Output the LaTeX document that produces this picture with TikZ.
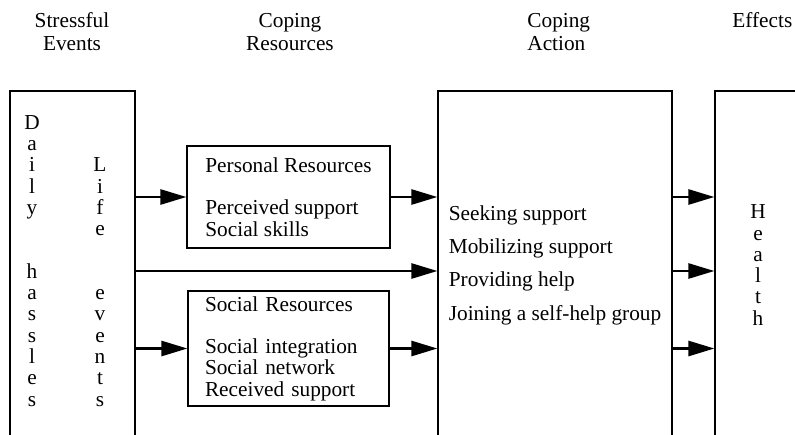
\documentclass[tikz,border=0pt]{standalone}
\usepackage{fontspec}
\setmainfont{Liberation Serif}
\usetikzlibrary{arrows.meta}

\begin{document}
\begin{tikzpicture}[
        x=0.5pt, y=-0.5pt,
        every node/.style={font=\fontsize{10.65pt}{10.6pt}\selectfont},
        box/.style={draw, line width=0.6pt, rectangle, inner sep=0pt},
        letters/.style={align=center, inner sep=0pt, font=\fontsize{10.65pt}{10.65pt}\selectfont},
        head/.style={inner sep=0pt, font=\fontsize{10.65pt}{11.5pt}\selectfont},
        arrow/.style={line width=1.3pt, -{Triangle[length=13pt, width=7.5pt]}}
    ]

    % Fixed frame, boxes run past the lower edge
    \useasboundingbox (0,0) rectangle (795,434);
    \clip (0,0) rectangle (795,434);

    % Column headings (base = last line)
    \node[head, align=center, anchor=base] (hstress) at (72,50) {Stressful\\Events};
    \node[head, align=center, anchor=base] (hres) at (290,50) {Coping\\Resources};
    \node[head, align=left, anchor=base west] (hact) at (527,50) {Coping\\Action};
    \node[head, anchor=base west] (heff) at (732,27) {Effects};

    % Stressful events
    \node[box, minimum width=62.5pt, minimum height=174pt] (events) at (72.5,265) {};
    \node[letters, anchor=base] (daily) at (32,406) {D\\a\\i\\l\\y\\~\\~\\h\\a\\s\\s\\l\\e\\s};
    \node[letters, anchor=base] (life) at (100,406) {L\\i\\f\\e\\~\\~\\e\\v\\e\\n\\t\\s};

    % Coping resources
    \node[box, minimum width=101.5pt, minimum height=51pt, align=left] (personal) at (288.5,197) {Personal Resources\\~\\Perceived support\\Social skills};
    \node[box, text width=83.5pt, inner xsep=8.5pt, minimum height=57.5pt, align=left] (social) at (288.5,348.5) {Social Resources\\~\\Social integration\\Social network\\Received support};

    % Coping action and effects
    \node[box, minimum width=117pt, minimum height=174pt, align=left, font=\fontsize{10.65pt}{16.67pt}\selectfont] (action) at (555,265) {Seeking support\\Mobilizing support\\Providing help\\Joining a self-help group};
    \node[box, letters, minimum width=43pt, minimum height=174pt] (effects) at (758,265) {H\\e\\a\\l\\t\\h};

    \coordinate (mid) at (0,271);

    % Arrows into the resources
    \draw[arrow] (events.east |- personal.west) -- (personal.west);
    \draw[arrow] (events.east |- mid) -- (action.west |- mid);
    \draw[arrow] (events.east |- social.west) -- (social.west);

    % Arrows into the action
    \draw[arrow] (personal.east) -- (action.west |- personal.east);
    \draw[arrow] (social.east) -- (action.west |- social.east);

    % Arrows into the effects
    \draw[arrow] (action.east |- personal.east) -- (effects.west |- personal.east);
    \draw[arrow] (action.east |- mid) -- (effects.west |- mid);
    \draw[arrow] (action.east |- social.east) -- (effects.west |- social.east);

\end{tikzpicture}
\end{document}
